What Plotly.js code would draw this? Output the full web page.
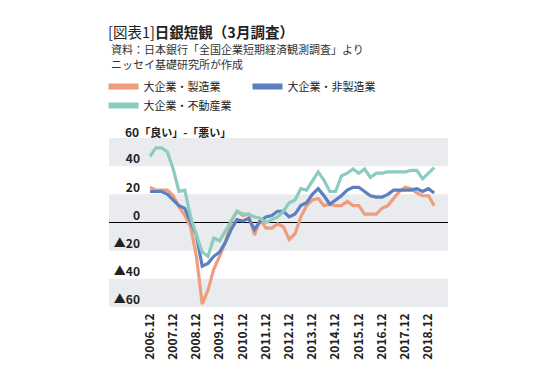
<!DOCTYPE html>
<html>
<head>
<meta charset="utf-8">
<script src="https://cdn.plot.ly/plotly-3.0.1.min.js"></script>
<style>
html,body{margin:0;padding:0;background:#fff;}
#chart{width:552px;height:374px;}
</style>
</head>
<body>
<div id="chart"></div>
<script>
const quarters = ["2006.12","2007.3","2007.6","2007.9","2007.12","2008.3","2008.6","2008.9","2008.12","2009.3",
"2009.6","2009.9","2009.12","2010.3","2010.6","2010.9","2010.12","2011.3","2011.6","2011.9",
"2011.12","2012.3","2012.6","2012.9","2012.12","2013.3","2013.6","2013.9","2013.12","2014.3",
"2014.6","2014.9","2014.12","2015.3","2015.6","2015.9","2015.12","2016.3","2016.6","2016.9",
"2016.12","2017.3","2017.6","2017.9","2017.12","2018.3","2018.6","2018.9","2018.12","2019.3"];

const manufacturing = [25,23,23,23,19,11,5,-3,-24,-58,
-48,-33,-24,-14,1,8,5,6,-9,2,
-4,-4,-1,-3,-12,-8,4,12,16,17,
12,13,12,12,15,12,12,6,6,6,
10,12,17,22,25,24,21,19,19,12];

const nonManufacturing = [22,22,22,20,16,12,10,1,-9,-31,
-29,-24,-21,-14,-5,2,1,3,-5,1,
4,5,8,8,4,6,12,14,20,24,
19,13,16,19,23,25,25,22,19,18,
18,20,23,23,23,23,24,22,24,21];

const realEstate = [47,53,53,50,38,22,23,4,-9,-21,
-24,-11,-13,-6,0,8,6,6,4,3,
0,2,4,8,14,16,24,23,29,36,
30,22,22,33,35,38,35,38,32,35,
35,36,36,36,36,37,37,31,35,39];

const seriesNames = ["大企業・製造業","大企業・非製造業","大企業・不動産業"];
const seriesColors = ["#EE9E7E","#5B80BF","#8CCBBF"];

const xTickVals = ["2006.12","2007.12","2008.12","2009.12","2010.12","2011.12","2012.12","2013.12","2014.12","2015.12","2016.12","2017.12","2018.12"];
const yTickVals = [-60,-40,-20,0,20,40,60];
const yTickText = ["▲60","▲40","▲20","0","20","40",""];
const yTitleText = '60<span style="font-size:11px">「良い」-「悪い」</span>';

const FONT = '"Noto Sans CJK JP", "Noto Sans", sans-serif';
const seriesData = [manufacturing, nonManufacturing, realEstate];

const traces = [];
seriesData.forEach((vals, k) => {
  traces.push({
    type: 'scatter', mode: 'lines', x: quarters, y: vals,
    name: seriesNames[k], showlegend: false,
    line: {color: seriesColors[k], width: 3.2}, hoverinfo: 'skip'
  });
});
seriesData.forEach((vals, k) => {
  traces.push({
    type: 'scatter', mode: 'lines', x: [null], y: [null],
    name: seriesNames[k], showlegend: true,
    legend: k === 2 ? 'legend2' : 'legend',
    line: {color: seriesColors[k], width: 6}, hoverinfo: 'skip'
  });
});

const bandColor = '#E9EBEE';
const bands = [[40,60],[-20,20],[-60,-40]].map(b => ({
  type: 'rect', xref: 'paper', yref: 'y', x0: 0, x1: 1, y0: b[0], y1: b[1],
  fillcolor: bandColor, line: {width: 0}, layer: 'below'
}));

const layout = {
  width: 552, height: 374,
  margin: {l: 109, r: 104, t: 138, b: 67, pad: 0},
  paper_bgcolor: '#fff', plot_bgcolor: 'rgba(0,0,0,0)',
  font: {family: FONT, color: '#222', size: 11},
  title: {
    text: '[図表1]<b>日銀短観（3月調査）</b>',
    font: {family: FONT, size: 14.5, color: '#222'},
    x: 108/552, xanchor: 'left', xref: 'container',
    y: 1 - 32.5/374, yanchor: 'middle', yref: 'container'
  },
  xaxis: {
    type: 'category', range: [-7.07, 51.38],
    tickvals: xTickVals, ticktext: xTickVals,
    tickangle: -90, ticks: '', showgrid: false, zeroline: false, showline: false,
    tickfont: {family: FONT, size: 12, color: '#222', weight: 'bold'},
    ticklabelstandoff: 3, fixedrange: true
  },
  yaxis: {
    range: [-60, 60], tickvals: yTickVals, ticktext: yTickText,
    ticks: '', showgrid: false, showline: false,
    zeroline: true, zerolinecolor: '#000', zerolinewidth: 1,
    anchor: 'free', position: 31/339,
    ticklabelshift: -7,
    tickfont: {family: FONT, size: 12, color: '#222', weight: 'bold'},
    fixedrange: true
  },
  shapes: bands,
  showlegend: true,
  legend: {
    orientation: 'h', x: (103.5-109)/339, xanchor: 'left', y: (307-72)/169, yanchor: 'top',
    entrywidth: 99, entrywidthmode: 'pixels', traceorder: 'normal',
    font: {family: FONT, size: 11, color: '#222'}, bgcolor: 'rgba(0,0,0,0)', borderwidth: 0
  },
  legend2: {
    orientation: 'h', x: (103.5-109)/339, xanchor: 'left', y: (307-91)/169, yanchor: 'top',
    font: {family: FONT, size: 11, color: '#222'}, bgcolor: 'rgba(0,0,0,0)', borderwidth: 0
  },
  annotations: [
    {text: '資料：日本銀行「全国企業短期経済観測調査」より', xref: 'paper', yref: 'paper',
     x: 0, y: (307-49)/169, xanchor: 'left', yanchor: 'middle', showarrow: false,
     font: {family: FONT, size: 11, color: '#333'}},
    {text: 'ニッセイ基礎研究所が作成', xref: 'paper', yref: 'paper',
     x: 0, y: (307-64)/169, xanchor: 'left', yanchor: 'middle', showarrow: false,
     font: {family: FONT, size: 11, color: '#333'}},
    {text: yTitleText, xref: 'paper', yref: 'paper',
     x: (123-109)/339, y: (307-131)/169, xanchor: 'left', yanchor: 'middle', showarrow: false,
     font: {family: FONT, size: 12, color: '#222', weight: 'bold'}}
  ]
};

Plotly.newPlot('chart', traces, layout, {displayModeBar: false, staticPlot: true});
</script>
</body>
</html>
